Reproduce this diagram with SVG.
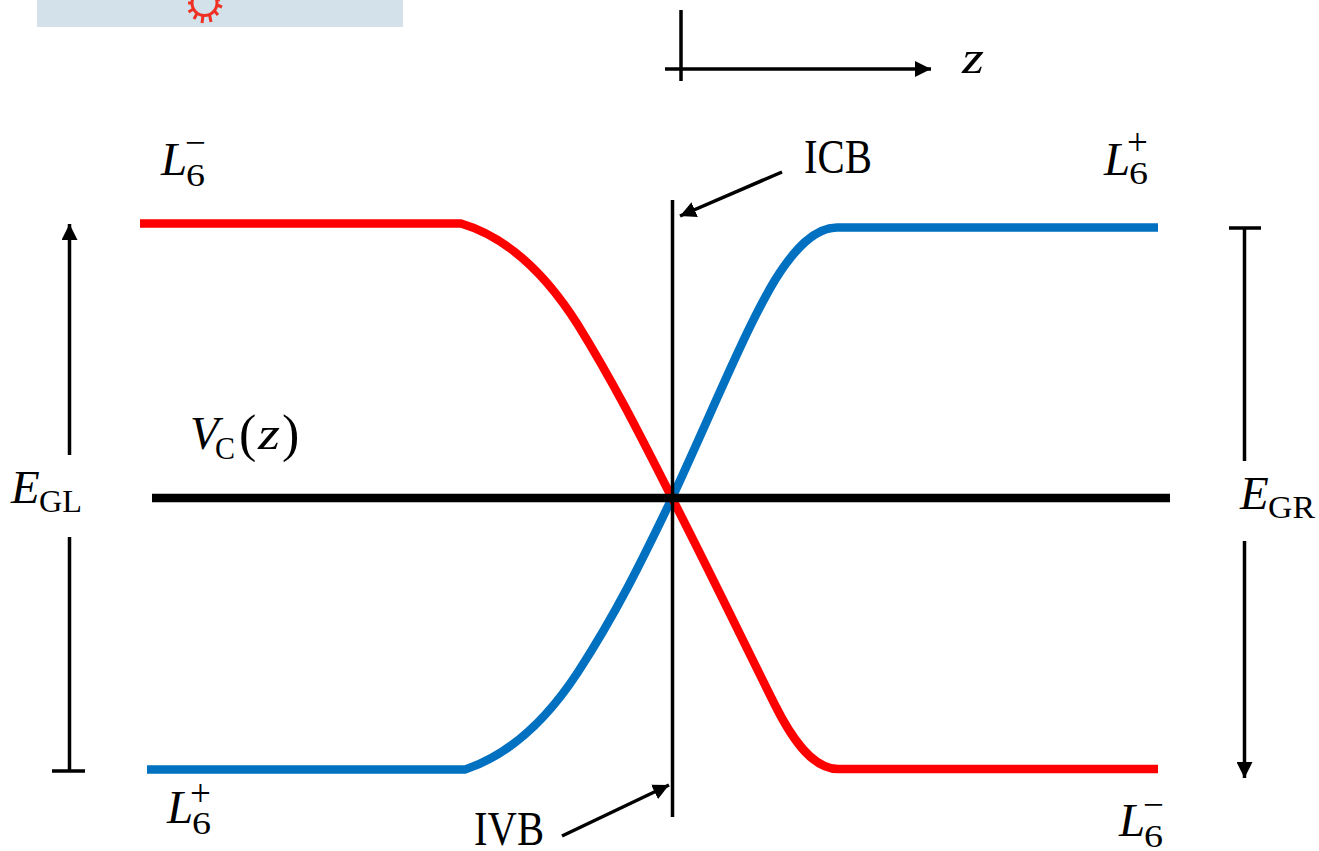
<svg xmlns="http://www.w3.org/2000/svg" width="1319" height="851" viewBox="0 0 1319 851">
<style>
text{font-family:"Liberation Serif","DejaVu Serif",serif;fill:#000}
.m{font-style:italic;font-size:47px}
.s{font-size:31px}
.o{font-size:37px}
.r{font-size:48px}
.p{font-size:52px}
.l{fill:none;stroke:#000;stroke-width:3.5}
.band{fill:none;stroke-width:8.500;stroke-linejoin:round}
</style>
<defs>
<marker id="a" markerUnits="userSpaceOnUse" markerWidth="16" markerHeight="16" refX="16" refY="8" orient="auto"><path d="M0 0L16 8L0 16Z" fill="#000"/></marker>
</defs>
<g id="banner">
<rect x="37" y="0" width="366" height="27" fill="#d2e1ea"/>
<g fill="none" stroke="#ee3124" stroke-width="3"><circle cx="204.500" cy="3" r="12.500"/><path d="M192 3H188M193.500 9L188.500 12M197 13.500L194 19M203 15.500L202 23M209.500 14.500L211 22M214.500 11L218 15M217 5L222 7M216 -1L220 0"/></g>
</g>
<g id="connectors">
<path class="l" d="M681 10V81"/>
<path class="l" d="M665 69H931" marker-end="url(#a)"/>
<path class="l" d="M782 172L680 216" marker-end="url(#a)"/>
<path class="l" d="M562 836L669 785" marker-end="url(#a)"/>
<path class="l" d="M69.500 455V224" marker-end="url(#a)"/>
<path class="l" d="M69.500 537V771M52 771H85"/>
<path class="l" d="M1244.500 228V461M1229 228H1261"/>
<path class="l" d="M1244.500 541V778" marker-end="url(#a)"/>
<path class="band" stroke="#0070c0" d="M147 769.500H465C500 758 540 730 578 672C615 615 640 565 672 498C712 412 745 330 775 280C795 248 815 227.500 837 227.500H1158"/>
<path class="band" stroke="#ff0000" d="M140 223.500H461C500 235 540 265 578 325C615 385 640 435 672 498C708 568 745 645 775 705C795 745 815 769 838 769H1158"/>
<path class="l" d="M672.500 200V817"/>
<path class="band" stroke="#000" d="M152 498H1170"/>
</g>
<g id="label-z"><text class="m" x="962" y="73" textLength="22" lengthAdjust="spacingAndGlyphs">z</text></g>
<g id="label-icb"><text class="r" x="804" y="173" textLength="68" lengthAdjust="spacingAndGlyphs">ICB</text></g>
<g id="label-ivb"><text class="r" x="474" y="845" textLength="70" lengthAdjust="spacingAndGlyphs">IVB</text></g>
<g id="label-l6-minus-left"><text class="m" x="161" y="175">L</text><text class="s" x="186" y="186" textLength="19" lengthAdjust="spacingAndGlyphs">6</text><text class="o" x="185" y="155">−</text></g>
<g id="label-l6-plus-right"><text class="m" x="1104" y="175">L</text><text class="s" x="1129" y="184" textLength="19" lengthAdjust="spacingAndGlyphs">6</text><text class="o" x="1127" y="155">+</text></g>
<g id="label-l6-plus-left"><text class="m" x="167" y="823">L</text><text class="s" x="192" y="834" textLength="19" lengthAdjust="spacingAndGlyphs">6</text><text class="o" x="190" y="806">+</text></g>
<g id="label-l6-minus-right"><text class="m" x="1119" y="836">L</text><text class="s" x="1144" y="847" textLength="19" lengthAdjust="spacingAndGlyphs">6</text><text class="o" x="1143" y="817">−</text></g>
<g id="label-vc"><text class="m" x="190" y="449">V</text><text class="s" x="215" y="459" textLength="20" lengthAdjust="spacingAndGlyphs">C</text><text class="p" x="239" y="451">(</text><text class="m" x="258" y="449" textLength="22" lengthAdjust="spacingAndGlyphs">z</text><text class="p" x="282" y="451">)</text></g>
<g id="label-egl"><text class="m" x="11" y="503">E</text><text class="s" x="39" y="512" textLength="43" lengthAdjust="spacingAndGlyphs">GL</text></g>
<g id="label-egr"><text class="m" x="1240" y="509">E</text><text class="s" x="1268" y="518" textLength="47" lengthAdjust="spacingAndGlyphs">GR</text></g>
</svg>
